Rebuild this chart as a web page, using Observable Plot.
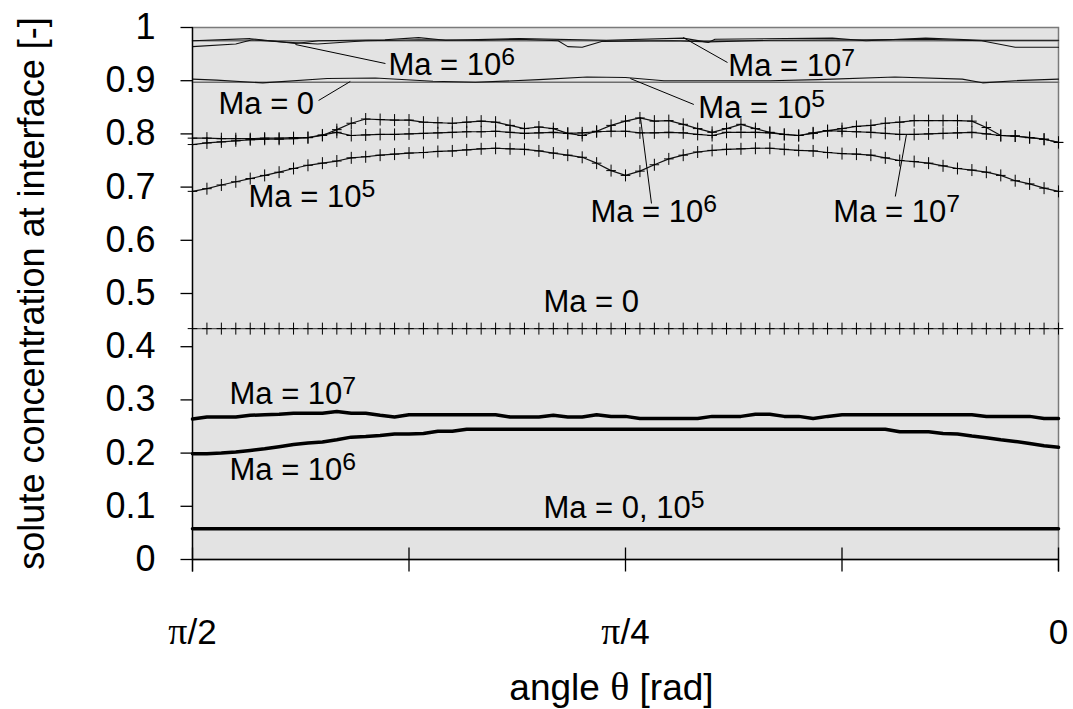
<!DOCTYPE html>
<html><head><meta charset="utf-8">
<script src="https://cdn.jsdelivr.net/npm/d3@7"></script>
<script src="https://cdn.jsdelivr.net/npm/@observablehq/plot@0.6"></script>
<style>body{margin:0;background:#fff} #chart svg{display:block}</style>
</head><body><div id="chart"></div>
<script>
// angle theta in degrees (pi/2 at left, 0 at right), 1.5 deg steps
const theta = [90,88.5,87,85.5,84,82.5,81,79.5,78,76.5,75,73.5,72,70.5,69,67.5,66,64.5,63,61.5,60,58.5,57,55.5,54,52.5,51,49.5,48,46.5,45,43.5,42,40.5,39,37.5,36,34.5,33,31.5,30,28.5,27,25.5,24,22.5,21,19.5,18,16.5,15,13.5,12,10.5,9,7.5,6,4.5,3,1.5,0];

// crossed series
const crossMa0 = [0.434,0.434,0.434,0.434,0.434,0.434,0.434,0.434,0.434,0.434,0.434,0.434,0.434,0.434,0.434,0.434,0.434,0.434,0.434,0.434,0.434,0.434,0.434,0.434,0.434,0.434,0.434,0.434,0.434,0.434,0.434,0.434,0.434,0.434,0.434,0.434,0.434,0.434,0.434,0.434,0.434,0.434,0.434,0.434,0.434,0.434,0.434,0.434,0.434,0.434,0.434,0.434,0.434,0.434,0.434,0.434,0.434,0.434,0.434,0.434,0.434];
const crossMa5 = [0.692,0.697,0.704,0.710,0.716,0.722,0.728,0.735,0.741,0.745,
  0.749,0.755,0.757,0.760,0.762,0.764,0.765,0.767,0.768,0.770,
  0.772,0.773,0.772,0.771,0.768,0.764,0.760,0.756,0.745,0.731,
  0.722,0.730,0.742,0.753,0.760,0.766,0.769,0.771,0.772,0.773,
  0.773,0.771,0.769,0.768,0.765,0.763,0.762,0.760,0.755,0.750,
  0.748,0.745,0.740,0.735,0.732,0.728,0.722,0.712,0.706,0.698,
  0.692];
const crossMa6 = [0.792,0.792,0.791,0.791,0.791,0.792,0.792,0.793,0.793,0.797,
  0.808,0.820,0.828,0.827,0.826,0.826,0.822,0.821,0.820,0.822,
  0.824,0.822,0.816,0.810,0.813,0.810,0.801,0.797,0.805,0.816,
  0.824,0.830,0.824,0.825,0.818,0.810,0.803,0.810,0.818,0.810,
  0.803,0.799,0.797,0.802,0.806,0.810,0.814,0.816,0.820,0.822,
  0.825,0.825,0.825,0.825,0.824,0.812,0.797,0.796,0.793,0.790,
  0.784];
const crossMa7 = [0.780,0.783,0.785,0.787,0.789,0.790,0.790,0.791,0.793,0.798,
  0.803,0.797,0.798,0.799,0.799,0.800,0.801,0.802,0.803,0.804,
  0.804,0.805,0.803,0.801,0.802,0.803,0.801,0.802,0.804,0.805,
  0.805,0.802,0.802,0.803,0.802,0.799,0.797,0.803,0.803,0.803,
  0.802,0.799,0.797,0.801,0.806,0.805,0.804,0.803,0.801,0.799,
  0.799,0.800,0.801,0.802,0.803,0.800,0.797,0.796,0.793,0.790,
  0.784];

// thick series (bottom)
const thickMa0 = [0.058,0.058,0.058,0.058,0.058,0.058,0.058,0.058,0.058,0.058,0.058,0.058,0.058,0.058,0.058,0.058,0.058,0.058,0.058,0.058,0.058,0.058,0.058,0.058,0.058,0.058,0.058,0.058,0.058,0.058,0.058,0.058,0.058,0.058,0.058,0.058,0.058,0.058,0.058,0.058,0.058,0.058,0.058,0.058,0.058,0.058,0.058,0.058,0.058,0.058,0.058,0.058,0.058,0.058,0.058,0.058,0.058,0.058,0.058,0.058,0.058];
const thickMa6 = [0.199,0.199,0.200,0.202,0.205,0.208,0.212,0.216,0.219,0.221,
  0.225,0.230,0.231,0.233,0.236,0.236,0.237,0.241,0.241,0.245,
  0.245,0.245,0.245,0.245,0.245,0.245,0.245,0.245,0.245,0.245,
  0.245,0.245,0.245,0.245,0.245,0.245,0.245,0.245,0.245,0.245,
  0.245,0.245,0.245,0.245,0.245,0.245,0.245,0.245,0.245,0.240,
  0.240,0.240,0.237,0.236,0.232,0.229,0.225,0.222,0.218,0.214,
  0.211];
const thickMa7 = [0.264,0.268,0.268,0.268,0.271,0.272,0.273,0.275,0.275,0.275,
  0.278,0.275,0.275,0.271,0.268,0.272,0.272,0.272,0.272,0.272,
  0.272,0.272,0.268,0.268,0.268,0.271,0.268,0.268,0.272,0.269,
  0.269,0.265,0.265,0.265,0.265,0.265,0.269,0.269,0.269,0.273,
  0.273,0.269,0.269,0.265,0.269,0.272,0.272,0.272,0.272,0.272,
  0.272,0.272,0.272,0.272,0.272,0.269,0.269,0.269,0.269,0.265,
  0.265];

// thin series (top)
const topMa6Deg = [90,85.5,83.8,80,77,72,66.5,60,56,52,51,49.5,47.4,40,36.4,30,20,14,8,4.5,0];
const topMa6Val = [0.964,0.969,0.977,0.972,0.969,0.975,0.977,0.976,0.978,0.975,0.964,0.963,0.974,0.975,0.973,0.976,0.977,0.978,0.975,0.963,0.963];
const topMa7Deg = [90,84,79.3,76.9,70,66.5,63.7,56,47,39,36.4,35.7,23.5,20,13.8,7.9,0];
const topMa7Val = [0.975,0.979,0.970,0.975,0.977,0.981,0.976,0.979,0.976,0.980,0.972,0.978,0.980,0.975,0.980,0.976,0.976];
const topMa5Deg = [90,87.5,82.7,76,71,65,60.6,54,49,45,41,30,25,17,10,7.9,4.5,0];
const topMa5Val = [0.903,0.901,0.896,0.904,0.905,0.899,0.897,0.902,0.907,0.906,0.900,0.900,0.902,0.907,0.903,0.896,0.900,0.903];
const topMa0Deg = [90,0];
const topMa0Val = [0.897,0.897];
const topRefDeg = [90,0];
const topRefVal = [0.975,0.975];

// labels
const labelText = ["Ma = 10^6","Ma = 0","Ma = 10^5","Ma = 10^7","Ma = 10^5","Ma = 10^6","Ma = 10^7","Ma = 0","Ma = 10^7","Ma = 10^6","Ma = 0, 10^5"];
const labelDeg  = [69.64,87.3,84.18,34.31,37.43,48.65,23.4,53.53,86.16,86.16,53.53];
const labelVal  = [0.9098,0.8383,0.6617,0.9079,0.8308,0.6335,0.6335,0.4643,0.2914,0.1485,0.0771];

// leader lines
const leadDeg1 = [69.95,76.9,34.4,37.9,42.3,16.96];
const leadVal1 = [0.9323,0.8628,0.9342,0.8553,0.6692,0.6823];
const leadDeg2 = [79.3,73.6,39.0,44.5,43.45,15.8];
const leadVal2 = [0.968,0.8985,0.9812,0.9041,0.831,0.7989];

// axes
const xTicks = [90,67.5,45,22.5,0];
const xTickLabels = ["π/2","","π/4","","0"];
const xEnds = [90,0];
const yTicks = [0,0.1,0.2,0.3,0.4,0.5,0.6,0.7,0.8,0.9,1];
const yTickLabels = ["0","0.1","0.2","0.3","0.4","0.5","0.6","0.7","0.8","0.9","1"];
const xTitle = "angle θ [rad]";
const yTitle = "solute concentration at interface [-]";

const cross = {draw(ctx, size){ const r = Math.sqrt(size/Math.PI); ctx.moveTo(-r*0.8,0); ctx.lineTo(r*0.8,0); ctx.moveTo(0,-r); ctx.lineTo(0,r); }};
const tickLeft = {draw(ctx){ ctx.moveTo(-12,0); ctx.lineTo(0,0); }};
const tickDown = {draw(ctx){ ctx.moveTo(0,0); ctx.lineTo(0,12); }};
const tickBoth = {draw(ctx){ ctx.moveTo(0,-12); ctx.lineTo(0,12); }};

const th = (d,i) => theta[i];
const crossLine = (vals, stroke) => Plot.line(vals, {x: th, y: d => d, stroke, strokeWidth: 1.2});
const crossDots = (vals) => Plot.dot(vals, {x: th, y: d => d, symbol: cross, r: 6, fill: "none", stroke: "black", strokeWidth: 1});

const svg = Plot.plot({
  width: 1073, height: 709,
  marginTop: 27, marginRight: 15, marginBottom: 150, marginLeft: 192,
  x: {domain: [90, 0], axis: null},
  y: {domain: [0, 1], axis: null},
  style: {fontFamily: "'Liberation Sans', Arial, sans-serif", background: "white", color: "black", overflow: "visible"},
  marks: [
    Plot.frame({fill: "#e3e3e3", stroke: "#7a7a7a", strokeWidth: 1.5}),
    // top thin lines
    Plot.line(topRefVal, {x: (d,i) => topRefDeg[i], y: d => d, stroke: "#6e6e6e", strokeWidth: 1.6}),
    Plot.line(topMa0Val, {x: (d,i) => topMa0Deg[i], y: d => d, stroke: "#6e6e6e", strokeWidth: 1.6}),
    Plot.line(topMa5Val, {x: (d,i) => topMa5Deg[i], y: d => d, stroke: "#111", strokeWidth: 1.1}),
    Plot.line(topMa6Val, {x: (d,i) => topMa6Deg[i], y: d => d, stroke: "#111", strokeWidth: 1.1}),
    Plot.line(topMa7Val, {x: (d,i) => topMa7Deg[i], y: d => d, stroke: "#111", strokeWidth: 1.1}),
    // crossed
    crossLine(crossMa0, "#555"),
    crossLine(crossMa5, "#111"),
    crossLine(crossMa6, "#111"),
    crossLine(crossMa7, "#111"),
    crossDots(crossMa0), crossDots(crossMa5), crossDots(crossMa6), crossDots(crossMa7),
    // thick
    Plot.line(thickMa0, {x: th, y: d => d, stroke: "black", strokeWidth: 3.5}),
    Plot.line(thickMa6, {x: th, y: d => d, stroke: "black", strokeWidth: 3.5}),
    Plot.line(thickMa7, {x: th, y: d => d, stroke: "black", strokeWidth: 3.5}),
    // leaders
    Plot.link(leadDeg1, {x1: d => d, y1: (d,i) => leadVal1[i], x2: (d,i) => leadDeg2[i], y2: (d,i) => leadVal2[i], stroke: "black", strokeWidth: 1}),
    // labels
    Plot.text(labelText, {x: (d,i) => labelDeg[i], y: (d,i) => labelVal[i], text: d => d, textAnchor: "start", lineAnchor: "bottom", fontSize: 31, fill: "black"}),
    // axes lines
    Plot.ruleX([90], {stroke: "black", strokeWidth: 1.3}),
    Plot.ruleY([0], {stroke: "black", strokeWidth: 1.3}),
    Plot.dot(yTicks, {x: 90, y: d => d, symbol: tickLeft, fill: "none", stroke: "black", strokeWidth: 1.3}),
    Plot.dot(xTicks, {x: d => d, y: 0, symbol: tickBoth, fill: "none", stroke: "black", strokeWidth: 1.3}),
    Plot.dot(xEnds, {x: d => d, y: 0, symbol: tickDown, fill: "none", stroke: "black", strokeWidth: 1.3}),
    Plot.text(yTickLabels, {x: 90, y: (d,i) => yTicks[i], text: d => d, dx: -37, textAnchor: "end", fontSize: 36, fill: "black"}),
    Plot.text(xTickLabels, {x: (d,i) => xTicks[i], y: 0, text: d => d, dy: 84, lineAnchor: "bottom", fontSize: 35, fill: "black"}),
    Plot.text([xTitle], {frameAnchor: "bottom", dx: -14, dy: 140, lineAnchor: "bottom", fontSize: 37, fill: "black"}),
    Plot.text([yTitle], {frameAnchor: "left", dx: -149, rotate: -90, textAnchor: "middle", lineAnchor: "bottom", fontSize: 36, fill: "black"})
  ]
});

// rich text: superscripts and serif greek letters
svg.querySelectorAll("text").forEach(t => {
  const s = t.textContent;
  if (!(s.includes("^") || /[πθ]/.test(s))) return;
  t.textContent = "";
  const re = /(\^\d+)|([πθ])|([^\^πθ]+)/g;
  let m;
  while ((m = re.exec(s))) {
    const ts = document.createElementNS("http://www.w3.org/2000/svg", "tspan");
    if (m[1]) { ts.textContent = m[1].slice(1); ts.setAttribute("font-size", "0.8em"); ts.setAttribute("dy", "-0.42em"); }
    else if (m[2]) { ts.textContent = m[2]; ts.setAttribute("font-family", "'Liberation Serif', 'DejaVu Serif', serif"); ts.setAttribute("font-size", "1.08em"); }
    else ts.textContent = m[3];
    t.appendChild(ts);
  }
});

document.getElementById("chart").appendChild(svg);
</script>
</body></html>
